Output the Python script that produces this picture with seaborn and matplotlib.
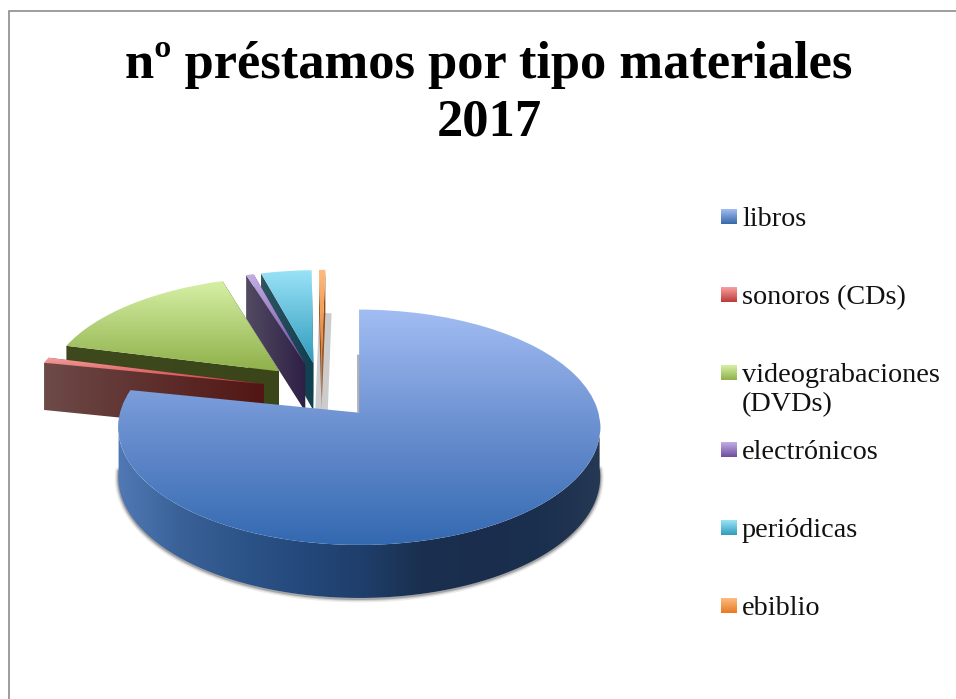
import numpy as np
import seaborn as sns
import matplotlib
matplotlib.use("Agg")
import matplotlib.pyplot as plt
from matplotlib.patches import Polygon
from matplotlib.transforms import Transform

labels = ["libros", "sonoros (CDs)", "videograbaciones\n(DVDs)", "electrónicos", "periódicas", "ebiblio"]
values = [78.2, 0.8, 15.9, 0.6, 4.0, 0.5]
title = "nº préstamos por tipo materiales\n2017"

# top surface gradients, back to front
top_colors = [
    ["#a2bdf3", "#6b90d0", "#3369b1"],
    ["#f7a0a0", "#c9403e"],
    ["#d6f1a6", "#8fb04a"],
    ["#c4aee6", "#6c4c9c"],
    ["#9be3f8", "#2f9cbc"],
    ["#ffbb80", "#e67a20"],
]
# outside walls, left to right
wall_colors = [
    ["#5079b5", "#3a6298", "#2d558a", "#25497c", "#1f3f6c", "#1a3050", "#1a2d4c", "#1b2f4e", "#253955"],
    ["#6d4a48", "#5e2f2d", "#521614"],
    ["#3e4a1e", "#3a451a"],
    ["#524b62", "#2e1f45"],
    ["#305460", "#0f3f50"],
    ["#a8602a", "#7a3d10"],
]
swatch_colors = [
    ["#a2bdf3", "#3568a8"],
    ["#f9a0a0", "#b93a38"],
    ["#d6f1a6", "#8fb04a"],
    ["#c4aee6", "#6c4c9c"],
    ["#9be3f8", "#2f9cbc"],
    ["#ffbb80", "#e67a20"],
]

# camera used to lay the pie down on the page
apex_x, apex_y = 358, 412
radius_px, height_px, tilt = 239, 115.7, 0.1234
explode = 0.256
pie_center = (-0.157, 0.192)


def project(u, v, z=0.0):
    u, v = np.asarray(u, float), np.asarray(v, float)
    w = 1 + tilt * v
    return apex_x + radius_px * u / w, apex_y - height_px * v / w + z * (49 - 4 * v)


class PieProjection(Transform):
    input_dims = 2
    output_dims = 2

    def transform_non_affine(self, values):
        values = np.asarray(values, float)
        x, y = project(values[:, 0], values[:, 1])
        return np.column_stack([x, y])


sns.set_theme(style="white")
plt.rcParams["font.family"] = ["Liberation Serif", "DejaVu Serif"]

fig = plt.figure(figsize=(9.56, 6.99), dpi=100)
ax = fig.add_axes([0, 0, 1, 1])

wedges, _ = ax.pie(values, explode=[explode] * len(values), startangle=90,
                   counterclock=False, center=pie_center, radius=1)
ax.set_aspect("auto")
ax.set_xlim(0, 956)
ax.set_ylim(699, 0)
ax.axis("off")
ax.autoscale(False)

layer = [10]


def next_layer():
    layer[0] += 1
    return layer[0]


def gradient(clip, box, colors, horizontal=False):
    cmap = sns.blend_palette(colors, n_colors=256, as_cmap=True)
    ramp = np.linspace(0, 1, 256)
    ramp = ramp[None, :] if horizontal else ramp[:, None]
    x0, x1, y0, y1 = box
    im = ax.imshow(ramp, cmap=cmap, extent=(x0, x1, y1, y0), aspect="auto",
                   zorder=next_layer(), interpolation="bilinear")
    if clip is not None:
        im.set_clip_path(clip)
    return im


def wall(xy, colors):
    poly = Polygon(xy, closed=True, fc="none", ec="none", transform=ax.transData)
    ax.add_patch(poly)
    box = (xy[:, 0].min(), xy[:, 0].max(), xy[:, 1].min(), xy[:, 1].max())
    gradient(poly, box, colors, horizontal=True)


# back slices first, the big one last
for i in [5, 4, 3, 2, 1, 0]:
    wedge = wedges[i]
    cx, cy = wedge.center
    th = np.radians(np.linspace(wedge.theta1, wedge.theta2, 240))
    u, v = cx + wedge.r * np.cos(th), cy + wedge.r * np.sin(th)
    tx, ty = project(u, v)
    bx, by = project(u, v, 1)
    ax_, ay_ = project(cx, cy)
    abx, aby = project(cx, cy, 1)

    if i == 5:
        ax.plot([bx[0], abx], [by[0], aby], color="#808080", alpha=0.4, lw=9,
                solid_capstyle="butt", zorder=next_layer())
    if i == 0:
        # little shadow on the straight edge and under the rim
        ax.plot([tx[-1], ax_], [by[-1], ay_], color="#808080", alpha=0.6, lw=3,
                solid_capstyle="butt", zorder=next_layer())
        front = np.sin(th) < -0.05
        for lw, alpha in [(5, 0.08), (3, 0.12), (1.5, 0.2)]:
            ax.plot(bx[front], by[front] + 1, color="black", alpha=alpha, lw=lw,
                    zorder=next_layer())
        # only the front of the rim can be seen
        rim = np.vstack([np.column_stack([tx[front], ty[front]]),
                         np.column_stack([bx[front], by[front]])[::-1]])
        wall(rim, wall_colors[i])
    else:
        # cut faces of the pulled out slices
        for k in (0, -1):
            face = np.array([[ax_, ay_], [tx[k], ty[k]], [bx[k], by[k]], [abx, aby]])
            wall(face, wall_colors[i])

    wedge.set_transform(PieProjection() + ax.transData)
    wedge.set_facecolor("none")
    wedge.set_edgecolor("none")
    wedge.set_zorder(next_layer())
    all_x, all_y = np.append(tx, ax_), np.append(ty, ay_)
    gradient(wedge, (all_x.min(), all_x.max(), all_y.min(), all_y.max()), top_colors[i])

# page frame
ax.plot([9, 9, 956], [699, 11, 11], color="#8c8c8c", lw=1.2, zorder=next_layer(),
        solid_joinstyle="miter")

ax.text(489, 78, title.split("\n")[0], fontsize=37.8, fontweight="bold", color="black",
        ha="center", va="baseline", zorder=next_layer())
ax.text(489, 136, title.split("\n")[1], fontsize=37.8, fontweight="bold", color="black",
        ha="center", va="baseline", zorder=next_layer())

# legend, one row every 78 px, wrapped lines 30 px apart
for i, name in enumerate(labels):
    top = 209 + 77.8 * i
    gradient(None, (721, 737, top, top + 15), swatch_colors[i])
    for j, line in enumerate(name.split("\n")):
        ax.text(742, top + 17 + 30 * j, line, fontsize=20.3, color="#111111", ha="left",
                va="baseline", zorder=next_layer())

ax.set_xlim(0, 956)
ax.set_ylim(699, 0)
fig.savefig("out.png", dpi=100)
